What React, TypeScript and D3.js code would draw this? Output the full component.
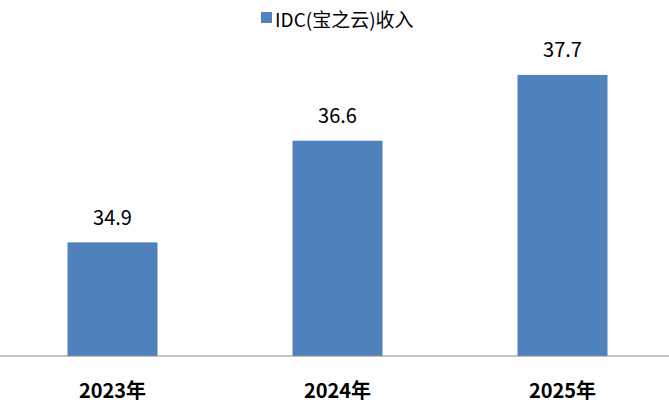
import * as d3 from 'd3';

const categories = ['2023年', '2024年', '2025年'];
const revenue = [34.9, 36.6, 37.7];
const seriesName = 'IDC(宝之云)收入';

const WIDTH = 669;
const HEIGHT = 402;
const BASELINE = 356;
const FONT = '"Noto Sans CJK SC", "Noto Sans", sans-serif';
const BAR_COLOR = '#4f81bd';

export default function App() {
  const x = d3.scaleBand<string>().domain(categories).range([0, 675]).paddingInner(0.6).paddingOuter(0.3);
  const y = d3.scaleLinear().domain([33, 38]).range([BASELINE, 57]);

  return (
    <svg
      width={WIDTH}
      height={HEIGHT}
      viewBox={`0 0 ${WIDTH} ${HEIGHT}`}
      style={{ position: 'absolute', left: 0, top: 0, background: '#fff' }}
    >
      {/* legend */}
      <rect x={261} y={12} width={11} height={11} fill={BAR_COLOR} />
      <text x={275} y={18} dominantBaseline="central" fontFamily={FONT} fontSize={19} fill="#000">
        {seriesName}
      </text>

      {categories.map((c, i) => (
        <g key={c}>
          <rect
            x={x(c)}
            y={y(revenue[i])}
            width={x.bandwidth()}
            height={BASELINE - y(revenue[i])}
            fill={BAR_COLOR}
          />
          <text
            x={(x(c) ?? 0) + x.bandwidth() / 2}
            y={y(revenue[i]) - 26}
            textAnchor="middle"
            dominantBaseline="central"
            fontFamily={FONT}
            fontSize={20}
            fill="#000"
          >
            {revenue[i].toFixed(1)}
          </text>
          <text
            x={(x(c) ?? 0) + x.bandwidth() / 2}
            y={389}
            textAnchor="middle"
            dominantBaseline="central"
            fontFamily={FONT}
            fontSize={20}
            fontWeight="bold"
            fill="#000"
          >
            {c}
          </text>
        </g>
      ))}

      <line x1={0} x2={WIDTH} y1={BASELINE} y2={BASELINE} stroke="#868686" strokeWidth={1} />
    </svg>
  );
}
